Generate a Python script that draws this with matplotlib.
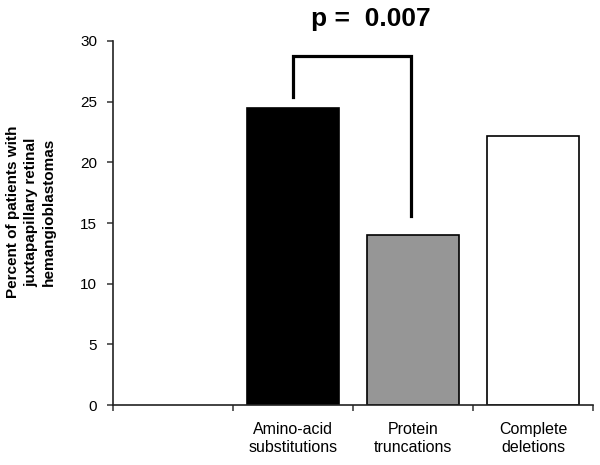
import matplotlib.pyplot as plt

plt.rcParams['font.family'] = ['Liberation Sans', 'DejaVu Sans']

# data
categories = ['', 'Amino-acid\nsubstitutions', 'Protein\ntruncations', 'Complete\ndeletions']
bar_positions = [1, 2, 3]
percent = [24.5, 14.0, 22.2]
bar_colors = ['black', '#969696', 'white']
p_label = 'p =  0.007'
bracket_x = [1.0, 1.0, 1.98, 1.98]
bracket_y = [25.4, 28.8, 28.8, 15.6]
y_ticks = [0, 5, 10, 15, 20, 25, 30]

fig = plt.figure(figsize=(6, 4.65), dpi=100)
ax = fig.add_axes([113 / 600, 1 - 405 / 465, 480 / 600, 364 / 465])

ax.bar(bar_positions, percent, width=0.77, color=bar_colors,
       edgecolor='black', linewidth=1.2)

ax.set_xlim(-0.5, 3.5)
ax.set_ylim(0, 30)
ax.set_yticks(y_ticks)

# ticks between categories, labels under the slot centres
ax.set_xticks([-0.5, 0.5, 1.5, 2.5, 3.5])
ax.set_xticklabels([])
ax.set_xticks(range(len(categories)), minor=True)
ax.set_xticklabels(categories, minor=True, fontsize=11.5, linespacing=1.3)
ax.tick_params(axis='x', which='major', direction='out', length=4.5, width=1.1, color='#333333')
ax.tick_params(axis='x', which='minor', length=0, pad=12)
ax.tick_params(axis='y', direction='out', length=4.3, width=1.1, color='#333333',
               labelsize=11, pad=7)

for side in ['top', 'right']:
    ax.spines[side].set_visible(False)
for side in ['left', 'bottom']:
    ax.spines[side].set_linewidth(1.2)
    ax.spines[side].set_color('#222222')

# significance bracket
ax.plot(bracket_x, bracket_y, color='black', linewidth=2.3, clip_on=False,
        solid_joinstyle='miter')
ax.text(1.65, 31.2, p_label, fontsize=19, fontweight='bold', ha='center',
        va='baseline', clip_on=False)

fig.text(31 / 600, 1 - 212 / 465,
         'Percent of patients with\njuxtapapillary retinal\nhemangioblastomas',
         rotation=90, ha='center', va='center', fontsize=11, fontweight='bold',
         linespacing=1.35)

fig.savefig('out.png', dpi=100)
